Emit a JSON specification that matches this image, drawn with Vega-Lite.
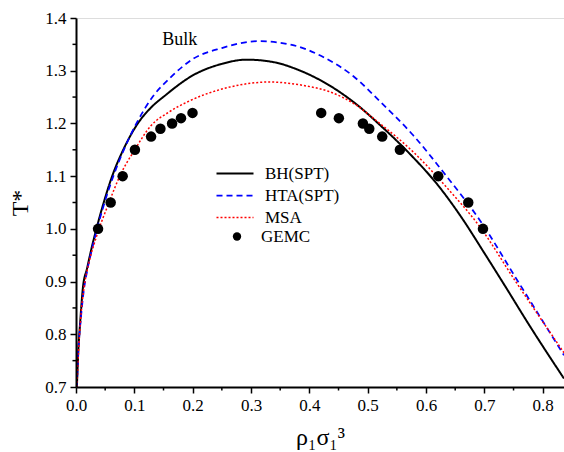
{
  "$schema": "https://vega.github.io/schema/vega-lite/v6.json",
  "width": 488,
  "height": 369,
  "autosize": "none",
  "padding": {"left": 76, "top": 18, "right": 0, "bottom": 65},
  "background": "white",
  "config": {
    "axis": {"grid": false, "labelColor": "black", "titleColor": "black", "labelFont": "Liberation Serif", "titleFont": "Liberation Serif", "labelFontSize": 17, "titleFontWeight": "normal"},
    "legend": {"labelFont": "Liberation Serif", "labelFontSize": 17, "labelColor": "black", "padding": 0, "offset": 0}
  },
  "datasets": {
    "curves": [
      {"series": "BH(SPT)", "x": 0.0015, "y": 0.70},
      {"series": "BH(SPT)", "x": 0.004, "y": 0.77},
      {"series": "BH(SPT)", "x": 0.007, "y": 0.82},
      {"series": "BH(SPT)", "x": 0.012, "y": 0.89},
      {"series": "BH(SPT)", "x": 0.019, "y": 0.925},
      {"series": "BH(SPT)", "x": 0.026, "y": 0.96},
      {"series": "BH(SPT)", "x": 0.035, "y": 1.0},
      {"series": "BH(SPT)", "x": 0.047, "y": 1.048},
      {"series": "BH(SPT)", "x": 0.062, "y": 1.10},
      {"series": "BH(SPT)", "x": 0.081, "y": 1.15},
      {"series": "BH(SPT)", "x": 0.106, "y": 1.20},
      {"series": "BH(SPT)", "x": 0.125, "y": 1.226},
      {"series": "BH(SPT)", "x": 0.155, "y": 1.255},
      {"series": "BH(SPT)", "x": 0.2, "y": 1.291},
      {"series": "BH(SPT)", "x": 0.25, "y": 1.313},
      {"series": "BH(SPT)", "x": 0.292, "y": 1.321},
      {"series": "BH(SPT)", "x": 0.34, "y": 1.316},
      {"series": "BH(SPT)", "x": 0.38, "y": 1.302},
      {"series": "BH(SPT)", "x": 0.4237, "y": 1.279},
      {"series": "BH(SPT)", "x": 0.481, "y": 1.236},
      {"series": "BH(SPT)", "x": 0.521, "y": 1.197},
      {"series": "BH(SPT)", "x": 0.5724, "y": 1.142},
      {"series": "BH(SPT)", "x": 0.621, "y": 1.082},
      {"series": "BH(SPT)", "x": 0.66, "y": 1.023},
      {"series": "BH(SPT)", "x": 0.7, "y": 0.954},
      {"series": "BH(SPT)", "x": 0.7324, "y": 0.897},
      {"series": "BH(SPT)", "x": 0.78, "y": 0.812},
      {"series": "BH(SPT)", "x": 0.8365, "y": 0.716},
      {"series": "HTA(SPT)", "x": 0.0015, "y": 0.70},
      {"series": "HTA(SPT)", "x": 0.004, "y": 0.77},
      {"series": "HTA(SPT)", "x": 0.0075, "y": 0.82},
      {"series": "HTA(SPT)", "x": 0.013, "y": 0.88},
      {"series": "HTA(SPT)", "x": 0.02, "y": 0.925},
      {"series": "HTA(SPT)", "x": 0.027, "y": 0.96},
      {"series": "HTA(SPT)", "x": 0.036, "y": 1.0},
      {"series": "HTA(SPT)", "x": 0.049, "y": 1.05},
      {"series": "HTA(SPT)", "x": 0.064, "y": 1.10},
      {"series": "HTA(SPT)", "x": 0.082, "y": 1.15},
      {"series": "HTA(SPT)", "x": 0.1036, "y": 1.20},
      {"series": "HTA(SPT)", "x": 0.132, "y": 1.2515},
      {"series": "HTA(SPT)", "x": 0.16, "y": 1.285},
      {"series": "HTA(SPT)", "x": 0.2, "y": 1.322},
      {"series": "HTA(SPT)", "x": 0.25, "y": 1.343},
      {"series": "HTA(SPT)", "x": 0.312, "y": 1.356},
      {"series": "HTA(SPT)", "x": 0.37, "y": 1.349},
      {"series": "HTA(SPT)", "x": 0.4237, "y": 1.326},
      {"series": "HTA(SPT)", "x": 0.475, "y": 1.29},
      {"series": "HTA(SPT)", "x": 0.5238, "y": 1.2387},
      {"series": "HTA(SPT)", "x": 0.578, "y": 1.1775},
      {"series": "HTA(SPT)", "x": 0.635, "y": 1.10},
      {"series": "HTA(SPT)", "x": 0.6925, "y": 1.016},
      {"series": "HTA(SPT)", "x": 0.755, "y": 0.905},
      {"series": "HTA(SPT)", "x": 0.8365, "y": 0.76},
      {"series": "MSA", "x": 0.0015, "y": 0.70},
      {"series": "MSA", "x": 0.0045, "y": 0.77},
      {"series": "MSA", "x": 0.008, "y": 0.83},
      {"series": "MSA", "x": 0.014, "y": 0.89},
      {"series": "MSA", "x": 0.022, "y": 0.935},
      {"series": "MSA", "x": 0.035, "y": 0.985},
      {"series": "MSA", "x": 0.0566, "y": 1.05},
      {"series": "MSA", "x": 0.075, "y": 1.10},
      {"series": "MSA", "x": 0.1007, "y": 1.15},
      {"series": "MSA", "x": 0.128, "y": 1.195},
      {"series": "MSA", "x": 0.16, "y": 1.222},
      {"series": "MSA", "x": 0.195, "y": 1.243},
      {"series": "MSA", "x": 0.26, "y": 1.268},
      {"series": "MSA", "x": 0.332, "y": 1.2786},
      {"series": "MSA", "x": 0.39, "y": 1.272},
      {"series": "MSA", "x": 0.435, "y": 1.26},
      {"series": "MSA", "x": 0.48, "y": 1.235},
      {"series": "MSA", "x": 0.515, "y": 1.205},
      {"series": "MSA", "x": 0.578, "y": 1.146},
      {"series": "MSA", "x": 0.635, "y": 1.079},
      {"series": "MSA", "x": 0.6925, "y": 1.0035},
      {"series": "MSA", "x": 0.7525, "y": 0.902},
      {"series": "MSA", "x": 0.8365, "y": 0.765}
    ],
    "gemc": [
      {"src": "GEMC", "x": 0.0378, "y": 1.0},
      {"src": "GEMC", "x": 0.0594, "y": 1.05},
      {"src": "GEMC", "x": 0.080, "y": 1.10},
      {"src": "GEMC", "x": 0.101, "y": 1.15},
      {"src": "GEMC", "x": 0.1287, "y": 1.175},
      {"src": "GEMC", "x": 0.1447, "y": 1.19},
      {"src": "GEMC", "x": 0.1647, "y": 1.20},
      {"src": "GEMC", "x": 0.180, "y": 1.21},
      {"src": "GEMC", "x": 0.1997, "y": 1.22},
      {"src": "GEMC", "x": 0.4203, "y": 1.22},
      {"src": "GEMC", "x": 0.4506, "y": 1.21},
      {"src": "GEMC", "x": 0.4918, "y": 1.20},
      {"src": "GEMC", "x": 0.5027, "y": 1.19},
      {"src": "GEMC", "x": 0.5249, "y": 1.175},
      {"src": "GEMC", "x": 0.5552, "y": 1.15},
      {"src": "GEMC", "x": 0.621, "y": 1.10},
      {"src": "GEMC", "x": 0.6724, "y": 1.05},
      {"src": "GEMC", "x": 0.6976, "y": 1.0}
    ],
    "notes": [
      {"x": 0.178, "y": 1.358, "label": "Bulk"}
    ],
    "xminor": [{"v": 0.05}, {"v": 0.15}, {"v": 0.25}, {"v": 0.35}, {"v": 0.45}, {"v": 0.55}, {"v": 0.65}, {"v": 0.75}],
    "yminor": [{"v": 0.75}, {"v": 0.85}, {"v": 0.95}, {"v": 1.05}, {"v": 1.15}, {"v": 1.25}, {"v": 1.35}]
  },
  "layer": [
    {
      "data": {"name": "curves"},
      "mark": {"type": "line", "interpolate": "monotone"},
      "encoding": {
        "x": {"field": "x", "type": "quantitative", "scale": {"domain": [0, 0.8365], "nice": false, "zero": false},
          "axis": {"orient": "bottom", "zindex": 2, "domain": true, "domainColor": "#000000", "domainWidth": 2, "domainOpacity": 1, "ticks": true, "tickColor": "#000000", "tickOpacity": 1, "tickWidth": 1.5, "tickSize": 6,
            "values": [0, 0.1, 0.2, 0.3, 0.4, 0.5, 0.6, 0.7, 0.8], "format": ".1f",
            "labelFlush": false, "labelOverlap": false, "labelPadding": 4, "title": "ρ₁σ₁³", "titleFontSize": 24, "titlePadding": 12}},
        "y": {"field": "y", "type": "quantitative", "scale": {"domain": [0.7, 1.4], "nice": false, "zero": false},
          "axis": {"orient": "left", "zindex": 2, "domain": true, "domainColor": "#000000", "domainWidth": 2, "domainOpacity": 1, "ticks": true, "tickColor": "#000000", "tickOpacity": 1, "tickWidth": 1.5, "tickSize": 6,
            "values": [0.7, 0.8, 0.9, 1.0, 1.1, 1.2, 1.3, 1.4], "format": ".1f",
            "labelFlush": false, "labelOverlap": false, "labelPadding": 4, "title": "T*", "titleFontSize": 24, "titlePadding": 12}},
        "color": {"field": "series", "type": "nominal", "scale": {"domain": ["BH(SPT)", "HTA(SPT)", "MSA"], "range": ["#000000", "#0000ff", "#ff0000"]},
          "legend": {"orient": "none", "legendX": 150.5, "legendY": 147, "title": null, "symbolType": "M-3.7,0H3.7", "symbolSize": 100, "symbolStrokeWidth": 1.5, "labelOffset": 21.5, "rowPadding": 4}},
        "strokeDash": {"field": "series", "type": "nominal", "scale": {"domain": ["BH(SPT)", "HTA(SPT)", "MSA"], "range": [[1, 0], [6, 4], [2, 2]]}},
        "strokeWidth": {"field": "series", "type": "nominal", "scale": {"domain": ["BH(SPT)", "HTA(SPT)", "MSA"], "range": [2, 1.5, 1.5]}, "legend": null}
      }
    },
    {
      "data": {"name": "gemc"},
      "mark": {"type": "point", "filled": true, "color": "black", "opacity": 1, "size": 110},
      "encoding": {
        "x": {"field": "x", "type": "quantitative"},
        "y": {"field": "y", "type": "quantitative"},
        "shape": {"field": "src", "type": "nominal", "scale": {"domain": ["GEMC"], "range": ["circle"]},
          "legend": {"orient": "none", "legendX": 152.5, "legendY": 210, "title": null, "symbolSize": 70, "symbolFillColor": "black", "symbolStrokeColor": "black", "labelOffset": 15.5}}
      }
    },
    {
      "data": {"name": "notes"},
      "mark": {"type": "text", "fontSize": 18, "font": "Liberation Serif", "color": "black"},
      "encoding": {
        "x": {"field": "x", "type": "quantitative"},
        "y": {"field": "y", "type": "quantitative"},
        "text": {"field": "label"}
      }
    },
    {
      "data": {"name": "xminor"},
      "mark": {"type": "tick", "orient": "vertical", "color": "black", "size": 3.5, "thickness": 1.5, "yOffset": 1.75, "opacity": 1},
      "encoding": {"x": {"field": "v", "type": "quantitative"}, "y": {"datum": 0.7, "type": "quantitative"}}
    },
    {
      "data": {"name": "yminor"},
      "mark": {"type": "tick", "orient": "horizontal", "color": "black", "size": 3.5, "thickness": 1.5, "xOffset": -1.75, "opacity": 1},
      "encoding": {"y": {"field": "v", "type": "quantitative"}, "x": {"datum": 0, "type": "quantitative"}}
    }
  ]
}
